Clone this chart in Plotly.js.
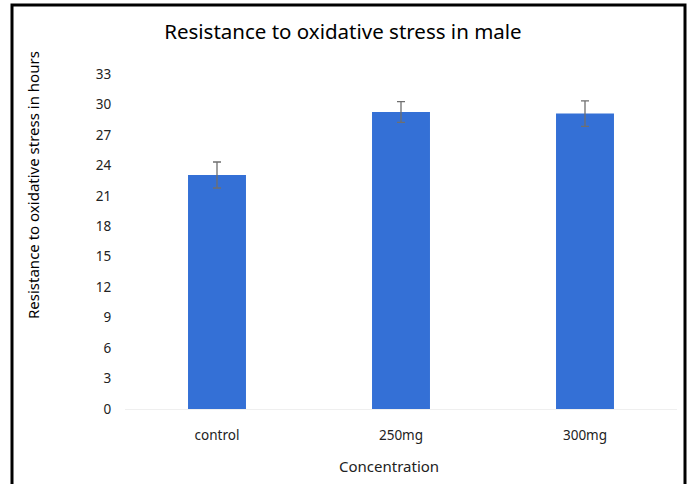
<!DOCTYPE html>
<html>
<head>
<meta charset="utf-8">
<script src="https://cdn.plot.ly/plotly-3.0.1.min.js"></script>
<style>
html,body{margin:0;padding:0;background:#fff;}
#chart{width:690px;height:484px;}
</style>
</head>
<body>
<div id="chart"></div>
<script>
var categories = ["control", "250mg", "300mg"];
var values = [23.05, 29.26, 29.1];
var errors = [1.28, 1.02, 1.26];
var yTicks = [0, 3, 6, 9, 12, 15, 18, 21, 24, 27, 30, 33];

var FONT = "Noto Sans, Open Sans, sans-serif";

var trace = {
  type: "bar",
  x: categories,
  y: values,
  marker: {color: "#3470D6"},
  error_y: {type: "data", array: errors, visible: true, color: "#6f6f6f", thickness: 1.3, width: 4},
  hoverinfo: "none"
};

var layout = {
  width: 690, height: 484,
  margin: {l: 125, r: 13, t: 74, b: 75},
  paper_bgcolor: "#fff", plot_bgcolor: "#fff",
  showlegend: false,
  bargap: 0.685,
  title: {text: "Resistance to oxidative stress in male", font: {family: FONT, size: 20.5, color: "#000"}, x: 0.497, xanchor: "center", y: 0.934, yanchor: "middle"},
  xaxis: {
    type: "category",
    showgrid: false, zeroline: false,
    showline: true, linecolor: "#efefef", linewidth: 1,
    ticks: "outside", ticklen: 14, tickcolor: "rgba(0,0,0,0)",
    tickfont: {family: FONT, size: 13.5, color: "#222"}
  },
  yaxis: {
    range: [0, 33],
    tickvals: yTicks,
    showgrid: false, zeroline: false, showline: false,
    ticks: "outside", ticklen: 10, tickcolor: "rgba(0,0,0,0)",
    tickfont: {family: FONT, size: 13.5, color: "#222"}
  },
  annotations: [{
    text: "Resistance to oxidative stress in hours",
    xref: "paper", yref: "paper",
    x: (33 - 125) / 552, y: (409 - 185) / 335,
    xanchor: "center", yanchor: "middle",
    textangle: -90, showarrow: false,
    font: {family: FONT, size: 15, color: "#000"}
  }, {
    text: "Concentration",
    xref: "paper", yref: "paper",
    x: (389 - 125) / 552, y: (409 - 466) / 335,
    xanchor: "center", yanchor: "middle",
    showarrow: false,
    font: {family: FONT, size: 15, color: "#222"}
  }],
  shapes: [{
    type: "rect", xref: "paper", yref: "paper",
    x0: (12 - 125) / 552, x1: (685 - 125) / 552,
    y0: (409 - 495) / 335, y1: (409 - 5) / 335,
    line: {color: "#000", width: 3}, fillcolor: "rgba(0,0,0,0)", layer: "above"
  }]
};

Plotly.newPlot("chart", [trace], layout, {displayModeBar: false, staticPlot: true});
</script>
</body>
</html>
